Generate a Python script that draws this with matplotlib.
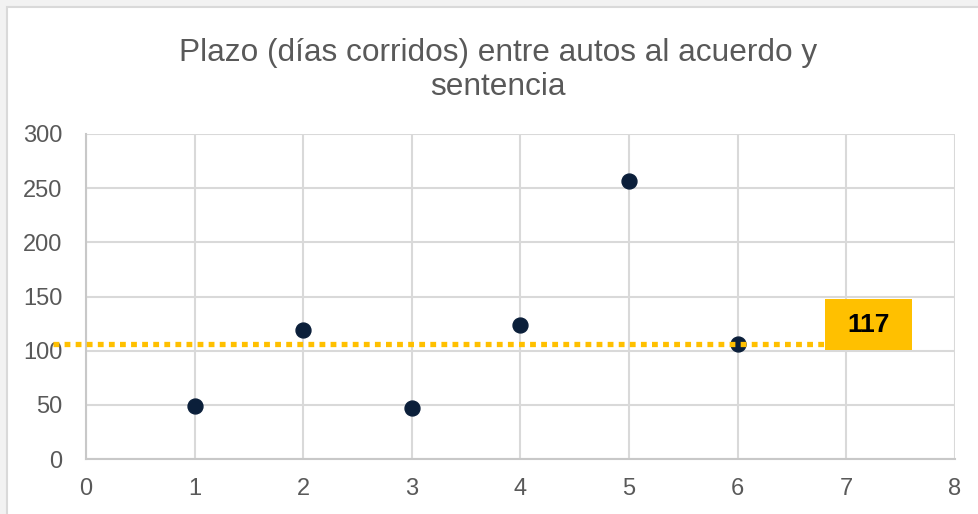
import matplotlib
matplotlib.use('Agg')
import matplotlib.pyplot as plt
from matplotlib.patches import Rectangle

x = [1, 2, 3, 4, 5, 6]
dias = [49, 119, 47, 124, 257, 106]
linea_y = 106
etiqueta = '117'
titulo = 'Plazo (días corridos) entre autos al acuerdo y\nsentencia'

plt.rcParams['font.family'] = ['Liberation Sans', 'DejaVu Sans']

fig = plt.figure(figsize=(9.79, 5.14), dpi=100, facecolor='#f2f2f2')
# white chart area with thin grey border (like the Excel frame)
fig.add_artist(Rectangle((7.5 / 979, -0.01), 1.0, 1.01 - 6.5 / 514, transform=fig.transFigure,
                         facecolor='white', edgecolor='#d9d9d9', lw=1.5, zorder=0))

ax = fig.add_axes([86 / 979, 55 / 514, (955 - 86) / 979, (459 - 134) / 514])
ax.set_facecolor('white')

ax.scatter(x, dias, s=115, color='#0b1f3a', zorder=3, clip_on=False)

# dotted reference line, running out past the y axis
ax.plot([-0.3, 6.8], [linea_y, linea_y], color='#ffc000', lw=3.8, ls=(0, (1.1, 1)),
        zorder=4, clip_on=False, solid_capstyle='butt', dash_capstyle='butt')
ax.add_patch(Rectangle((6.8, 100.6), 0.8, 47, facecolor='#ffc000', edgecolor='none',
                       zorder=5, clip_on=False))
ax.text(7.2, 124, etiqueta, ha='center', va='center', fontsize=19, fontweight='bold',
        color='black', zorder=6)

ax.set_xlim(0, 8)
ax.set_ylim(0, 300)
ax.set_xticks(range(0, 9))
ax.set_yticks(range(0, 301, 50))
ax.grid(True, color='#d9d9d9', lw=1.5)
ax.set_axisbelow(True)
for s in ['top', 'right']:
    ax.spines[s].set_visible(False)
for s in ['left', 'bottom']:
    ax.spines[s].set_color('#c8c8c8')
    ax.spines[s].set_linewidth(1.5)
ax.tick_params(length=0, labelsize=17, labelcolor='#595959')
ax.tick_params(axis='y', pad=17)
ax.tick_params(axis='x', pad=14)

fig.text(498 / 979, 0.864, titulo, ha='center', va='center', fontsize=22.8, color='#595959',
         linespacing=1.2)

fig.savefig('out.png', dpi=100, facecolor=fig.get_facecolor())
